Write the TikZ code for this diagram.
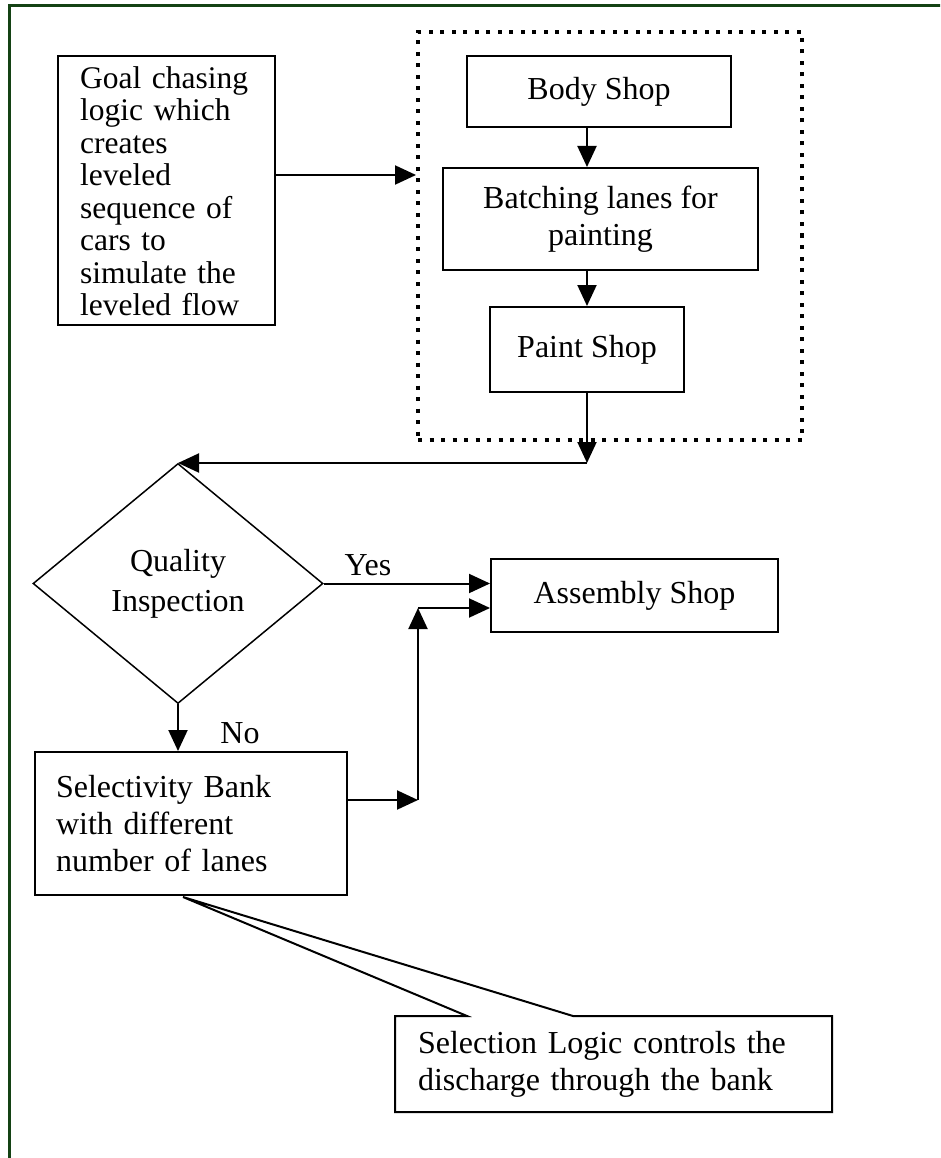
\documentclass[tikz,border=0pt]{standalone}
\usepackage{fontspec}
\setmainfont{Liberation Serif}
\usetikzlibrary{arrows.meta,shapes.geometric,calc}
\definecolor{framegreen}{RGB}{20,66,20}
\begin{document}
\begin{tikzpicture}[x=1pt,y=-1pt,
  every node/.style={font=\fontsize{32}{36.8}\selectfont},
  box/.style={draw, line width=2pt, inner sep=0pt, align=center},
  arr/.style={line width=2pt, -{Triangle[length=21pt,width=19pt]}},
  edge/.style={line width=2pt, line join=miter}]

\clip (0,0) rectangle (940,1158);

% outer frame (only the top and left sides fall inside the page)
\draw[framegreen, line width=3.5pt] (9.5,1200) -- (9.5,5.5) -- (1000,5.5);

% goal chasing logic
\node[box, minimum width=217pt, minimum height=269pt] (goal) at (166.5,190.5) {};
\node[text width=173pt, align=left, inner sep=0pt, anchor=north west,
      font=\fontsize{31.5}{32.5}\selectfont] (goaltext) at (80,66)
  {Goal chasing\\logic which\\creates\\leveled\\sequence of\\cars to\\simulate the\\leveled flow};

% dotted stage around the body and paint shops
\node[draw, line width=4pt, dash pattern=on 4pt off 7.5pt, inner sep=0pt,
      minimum width=384pt, minimum height=408pt] (stage) at (610,236) {};

\node[box, minimum width=264pt, minimum height=71pt] (body) at (599,91.5) {Body Shop};
\node[box, minimum width=315pt, minimum height=102pt] (batch) at (600.5,219) {Batching lanes for\\painting};
\node[box, minimum width=194pt, minimum height=85pt] (paint) at (587,349.5) {Paint Shop};

% inspection and downstream
\node[draw, line width=1.5pt, diamond, inner sep=0pt, align=center,
      font=\fontsize{32}{40}\selectfont,
      minimum width=290pt, minimum height=240pt] (dia) at (178,583.5) {Quality\\Inspection};
\node[box, minimum width=287pt, minimum height=73pt] (asm) at (634.5,595.5) {Assembly Shop};
\node[box, minimum width=312pt, minimum height=143pt, text width=270pt, align=left] (bank) at (191,823.5)
  {Selectivity Bank\\with different\\number of lanes};

\node (yes) at (368,565) {Yes};
\node (no) at (240,733) {No};

% connectors
\coordinate (g1) at (275,175);
\draw[arr] (g1) -- (g1 -| stage.west);
\draw[arr] (body.south -| paint.north) -- (batch.north -| paint.north);
\draw[arr] (batch.south -| paint.north) -- (paint.north);
\coordinate (j1) at (587,463);
\draw[arr] (paint.south) -- (j1);
\draw[arr] (j1) -- (j1 -| dia.north);
\draw[arr] (dia.east) -- (dia.east -| asm.west);
\draw[arr] (dia.south) -- (dia.south |- bank.north);
\coordinate (j2) at (418,800);
\coordinate (j3) at (418,608);
\draw[arr] (bank.east |- j2) -- (j2);
\draw[arr] (j2) -- (j3);
\draw[arr] (j3) -- (j3 -| asm.west);

% callout for the selection logic
\node[text width=380pt, align=left, inner sep=0pt] (note) at (608,1064)
  {Selection Logic controls the\\discharge through the bank};
\coordinate (tip) at (183,897);
\coordinate (nw) at (395,1016);
\coordinate (ne) at (832,1016);
\coordinate (se) at (832,1112);
\coordinate (sw) at (395,1112);
\coordinate (t1) at (467,1016);
\coordinate (t2) at (573,1016);
\draw[edge] (t1) -- (tip) -- (t2) -- (ne) -- (se) -- (sw) -- (nw) -- cycle;

\end{tikzpicture}
\end{document}
